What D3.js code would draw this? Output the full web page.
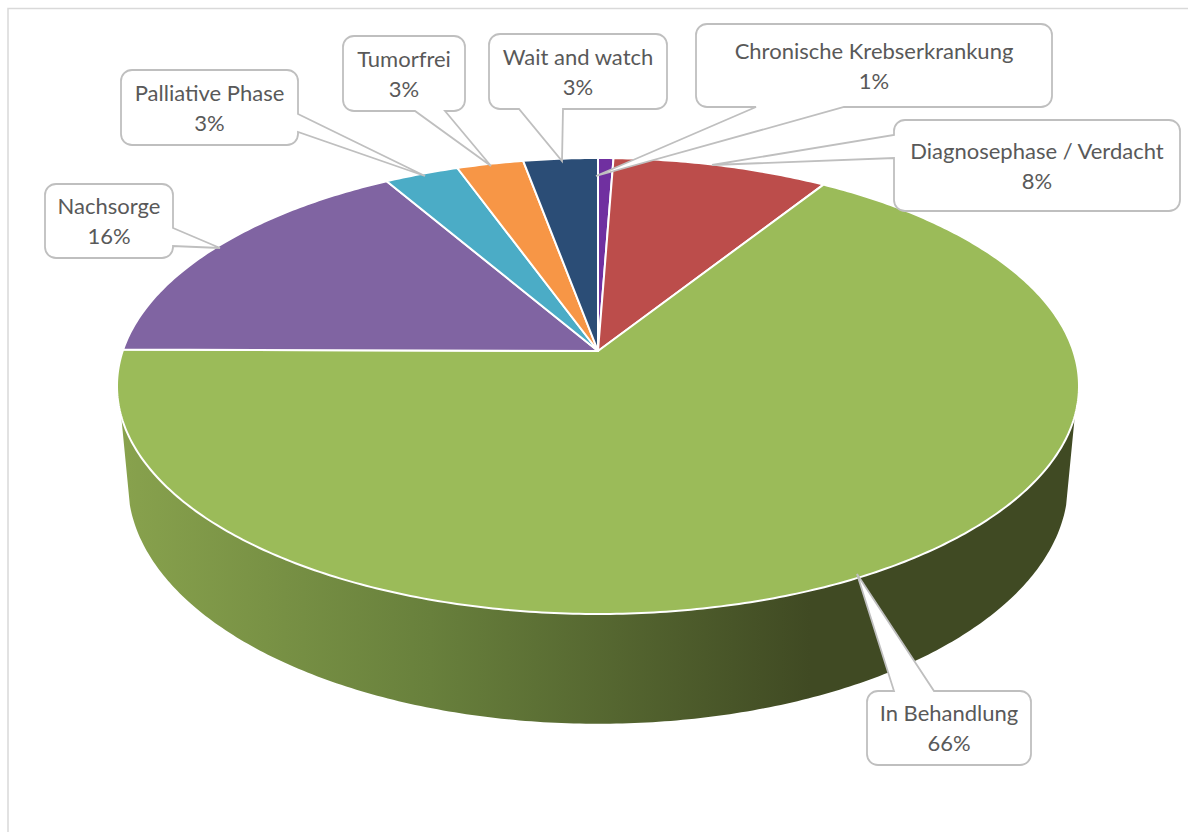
<!DOCTYPE html>
<html>
<head>
<meta charset="utf-8">
<script src="https://cdn.jsdelivr.net/npm/d3@7"></script>
<style>
    html, body { margin: 0; padding: 0; background: #fff; overflow: hidden; }
    text { font-family: Lato, "Open Sans", sans-serif; font-size: 22px; fill: #595959; text-anchor: middle; }
</style>
</head>
<body>
<div id="chart"></div>
<script>
"use strict";

// values, labels as printed in the callouts
var categories = ["Chronische Krebserkrankung", "Diagnosephase / Verdacht", "In Behandlung", "Nachsorge", "Palliative Phase", "Tumorfrei", "Wait and watch"];
var values = [0.6, 8.4, 66.1, 16.5, 2.9, 2.6, 2.9];
var percentLabels = ["1%", "8%", "66%", "16%", "3%", "3%", "3%"];
var colors = ["#7030a0", "#bc4d4b", "#9bbb59", "#8064a2", "#4bacc6", "#f79646", "#2b4d76"];

// callout boxes: box edges, side the pointer leaves from, pointer base and tip
var callouts = [
    {x0: 696, x1: 1052, y0: 24, y1: 107, side: "bottom", a: 756, b: 844, tip: [596, 176]},
    {x0: 894, x1: 1180, y0: 120, y1: 211, side: "left", a: 135, b: 158, tip: [712, 165]},
    {x0: 867, x1: 1031, y0: 691, y1: 765, side: "top", a: 894, b: 934, tip: [857, 574]},
    {x0: 45, x1: 173, y0: 184, y1: 258, side: "right", a: 228, b: 246, tip: [220, 248]},
    {x0: 121, x1: 298, y0: 70, y1: 145, side: "right", a: 114, b: 132, tip: [425, 176]},
    {x0: 343, x1: 465, y0: 36, y1: 111, side: "bottom", a: 415, b: 445, tip: [491, 166]},
    {x0: 489, x1: 667, y0: 34, y1: 109, side: "bottom", a: 519, b: 563, tip: [562, 161]}
];

var width = 1188, height = 832;

// perspective disc: apex of the pie, half axes and perspective strength
var apex = {x: 598, y: 351};
var A = 475.3, B = 222.6, k = 0.1535;
// lower rim of the wall
var lowerA = 464.4, lowerB = 234.3, lowerApexY = 447;

function project(angle, r) {
    var u = r * Math.sin(angle), v = -r * Math.cos(angle);
    var d = 1 - k * v;
    return [apex.x + A * u / d, apex.y + B * v / d];
}

function projectLower(angle) {
    var u = Math.sin(angle), v = -Math.cos(angle);
    var d = 1 - k * v;
    return [apex.x + lowerA * u / d, lowerApexY + lowerB * v / d];
}

function sample(a0, a1) {
    var n = Math.max(2, Math.ceil(Math.abs(a1 - a0) * 90));
    return d3.range(n + 1).map(function(i) { return a0 + (a1 - a0) * i / n; });
}

var svg = d3.select("#chart").append("svg")
    .attr("width", width)
    .attr("height", height);

// chart frame, only left and top are in the picture
svg.append("rect")
    .attr("x", 8)
    .attr("y", 8.5)
    .attr("width", width + 50)
    .attr("height", height + 50)
    .attr("fill", "#fff")
    .attr("stroke", "#d9d9d9")
    .attr("stroke-width", 1.5);

var grad = svg.append("defs").append("linearGradient")
    .attr("id", "wall")
    .attr("gradientUnits", "userSpaceOnUse")
    .attr("x1", 120).attr("x2", 810)
    .attr("y1", 0).attr("y2", 0);
grad.append("stop").attr("offset", "0%").attr("stop-color", "#88a24d");
grad.append("stop").attr("offset", "45%").attr("stop-color", "#68803c");
grad.append("stop").attr("offset", "100%").attr("stop-color", "#404a23");

var line = d3.line();

// side wall, front part of the disc between top rim and lower rim
var topSplit = Math.atan2(0.96, 0.2794), lowSplit = Math.atan2(0.971, 0.2385);
var wallPts = sample(Math.PI - topSplit, Math.PI + topSplit).map(function(a) { return project(a, 1); })
    .concat(sample(Math.PI + lowSplit, Math.PI - lowSplit).map(projectLower));

svg.append("path")
    .attr("d", line(wallPts) + "Z")
    .attr("fill", "url(#wall)");

// top slices
var pie = d3.pie().sort(null).value(function(d) { return d; });
var arcs = pie(values);

svg.selectAll("path.slice")
    .data(arcs)
    .enter()
    .append("path")
    .attr("class", "slice")
    .attr("d", function(d) {
        var pts = sample(d.startAngle, d.endAngle).map(function(a) { return project(a, 1); });
        return line([[apex.x, apex.y]].concat(pts)) + "Z";
    })
    .attr("fill", function(d, i) { return colors[i]; })
    .attr("stroke", "#fff")
    .attr("stroke-width", 2)
    .attr("stroke-linejoin", "round");

// callouts with pointer
function calloutPath(c) {
    var r = 11, p = d3.path();
    p.moveTo(c.x0 + r, c.y0);
    if (c.side == "top") {
        p.lineTo(c.a, c.y0); p.lineTo(c.tip[0], c.tip[1]); p.lineTo(c.b, c.y0);
    }
    p.lineTo(c.x1 - r, c.y0);
    p.arcTo(c.x1, c.y0, c.x1, c.y0 + r, r);
    if (c.side == "right") {
        p.lineTo(c.x1, c.a); p.lineTo(c.tip[0], c.tip[1]); p.lineTo(c.x1, c.b);
    }
    p.lineTo(c.x1, c.y1 - r);
    p.arcTo(c.x1, c.y1, c.x1 - r, c.y1, r);
    if (c.side == "bottom") {
        p.lineTo(c.b, c.y1); p.lineTo(c.tip[0], c.tip[1]); p.lineTo(c.a, c.y1);
    }
    p.lineTo(c.x0 + r, c.y1);
    p.arcTo(c.x0, c.y1, c.x0, c.y1 - r, r);
    if (c.side == "left") {
        p.lineTo(c.x0, c.b); p.lineTo(c.tip[0], c.tip[1]); p.lineTo(c.x0, c.a);
    }
    p.lineTo(c.x0, c.y0 + r);
    p.arcTo(c.x0, c.y0, c.x0 + r, c.y0, r);
    p.closePath();
    return p.toString();
}

var labels = svg.selectAll("g.callout")
    .data(callouts)
    .enter()
    .append("g")
    .attr("class", "callout");

labels.append("path")
    .attr("d", calloutPath)
    .attr("fill", "#fff")
    .attr("stroke", "#bfbfbf")
    .attr("stroke-width", 1.8);

labels.append("text")
    .attr("x", function(c) { return (c.x0 + c.x1) / 2; })
    .attr("y", function(c) { return (c.y0 + c.y1) / 2 - 7; })
    .text(function(c, i) { return categories[i]; });

labels.append("text")
    .attr("x", function(c) { return (c.x0 + c.x1) / 2; })
    .attr("y", function(c) { return (c.y0 + c.y1) / 2 + 23; })
    .text(function(c, i) { return percentLabels[i]; });
</script>
</body>
</html>
